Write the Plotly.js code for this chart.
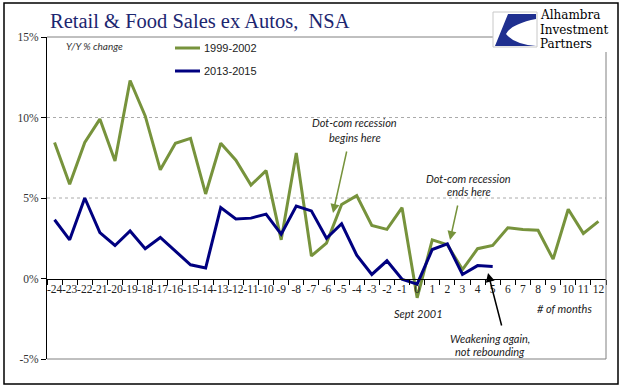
<!DOCTYPE html>
<html>
<head>
<meta charset="utf-8">
<script src="https://cdn.plot.ly/plotly-3.0.1.min.js"></script>
<style>html,body{margin:0;padding:0;background:#fff;}#chart{width:629px;height:392px;}</style>
</head>
<body>
<div id="chart"></div>
<script>
// ---- data ----
const months = [-24,-23,-22,-21,-20,-19,-18,-17,-16,-15,-14,-13,-12,-11,-10,-9,-8,-7,-6,-5,-4,-3,-2,-1,0,1,2,3,4,5,6,7,8,9,10,11,12];
const monthLabels = months.map(String);
const sales1999_2002 = [8.45,5.85,8.45,9.9,7.3,12.3,10.1,6.75,8.4,8.7,5.25,8.4,7.35,5.8,6.7,2.4,7.8,1.4,2.2,4.6,5.15,3.3,3.05,4.4,-1.2,2.4,2.1,0.55,1.85,2.05,3.15,3.05,3.0,1.2,4.3,2.8,3.55];
const sales2013_2015 = [3.65,2.4,5.0,2.85,2.05,2.95,1.85,2.55,1.7,0.85,0.65,4.4,3.7,3.75,4.0,2.75,4.5,4.2,2.5,3.4,1.45,0.25,1.1,-0.05,-0.35,1.8,2.15,0.25,0.8,0.75];
const seriesNames = ['1999-2002','2013-2015'];
const yTicks = [-5,0,5,10,15];

// ---- layout helpers (pixel -> paper) ----
const L = 47, R = 606, T = 37, B = 359;
const px = x => (x - L) / (R - L);
const py = y => (B - y) / (B - T);

const green = '#77933C', navy = '#000080';
const noteFont = {family: 'Lato, "Open Sans", sans-serif', size: 11, color: '#222'};

const traces = [
  {x: monthLabels, y: sales1999_2002, type: 'scatter', mode: 'lines', name: seriesNames[0],
   line: {color: green, width: 3}, showlegend: false, hoverinfo: 'skip'},
  {x: monthLabels.slice(0, sales2013_2015.length), y: sales2013_2015, type: 'scatter', mode: 'lines', name: seriesNames[1],
   line: {color: navy, width: 3}, showlegend: false, hoverinfo: 'skip'}
];

const shapes = [
  // outer frame
  {type: 'rect', xref: 'paper', yref: 'paper', x0: px(4), x1: px(618), y0: py(384), y1: py(3), line: {color: '#000', width: 1.5}},
  // plot area borders
  {type: 'line', xref: 'paper', yref: 'paper', x0: 0, x1: px(493), y0: 1, y1: 1, line: {color: '#808080', width: 1}},
  {type: 'line', xref: 'paper', yref: 'paper', x0: 1, x1: 1, y0: 0, y1: py(52), line: {color: '#808080', width: 1}},
  {type: 'line', xref: 'paper', yref: 'paper', x0: 0, x1: 1, y0: 0, y1: 0, line: {color: '#808080', width: 1}},
  // dashed gridlines
  {type: 'line', xref: 'paper', yref: 'y', x0: 0, x1: 1, y0: 5, y1: 5, line: {color: '#aaaaaa', width: 1, dash: 'dot'}, layer: 'below'},
  {type: 'line', xref: 'paper', yref: 'y', x0: 0, x1: 1, y0: 10, y1: 10, line: {color: '#aaaaaa', width: 1, dash: 'dot'}, layer: 'below'},
  // legend samples
  {type: 'line', xref: 'paper', yref: 'paper', x0: px(175), x1: px(200), y0: py(48), y1: py(48), line: {color: green, width: 3}},
  {type: 'line', xref: 'paper', yref: 'paper', x0: px(175), x1: px(200), y0: py(71), y1: py(71), line: {color: navy, width: 3}},
  // logo box
  {type: 'rect', xref: 'paper', yref: 'paper', x0: px(493), x1: px(537), y0: py(47), y1: py(12), fillcolor: '#fff', line: {color: '#c8c8c8', width: 1}},
];
// logo swoosh path (paper coords)
const P = (x, y) => px(x).toFixed(4) + ',' + py(y).toFixed(4);
shapes.push({type: 'path', xref: 'paper', yref: 'paper',
  path: 'M' + P(508,14) + ' L' + P(536,14) + ' L' + P(536,19) + ' Q' + P(511,24) + ' ' + P(506,34) +
        ' Q' + P(514,44) + ' ' + P(536,46) + ' L' + P(495,46) + ' Z',
  fillcolor: '#1f2f8f', line: {width: 0}});

const ann = [];
const txt = (x, y, text, opts = {}) => ann.push(Object.assign({xref: 'paper', yref: 'paper', x: px(x), y: py(y), text, showarrow: false,
  xanchor: 'center', yanchor: 'middle', font: noteFont}, opts));
const arrow = (x0, y0, x1, y1, color) => ann.push({xref: 'paper', yref: 'paper', x: px(x1), y: py(y1), ax: x0 - x1, ay: y0 - y1,
  text: '', showarrow: true, arrowhead: 2, arrowsize: 1.2, arrowwidth: 1.5, arrowcolor: color});

txt(94, 46, '<i>Y/Y % change</i>', {font: {family: 'Lato, sans-serif', size: 10, color: '#333'}});
txt(202, 48, seriesNames[0], {xanchor: 'left', font: {family: 'Liberation Sans, Arial, sans-serif', size: 11, color: '#222'}});
txt(202, 71, seriesNames[1], {xanchor: 'left', font: {family: 'Liberation Sans, Arial, sans-serif', size: 11, color: '#222'}});
txt(355, 123, '<i>Dot-com recession</i>');
txt(355, 137, '<i>begins here</i>');
arrow(347, 150, 333, 213, green);
txt(469, 178, '<i>Dot-com recession</i>');
txt(469, 191, '<i>ends here</i>');
arrow(458, 204, 450, 240, green);
txt(418, 313, '<i>Sept 2001</i>');
txt(564, 308, '<i># of months</i>');
txt(490, 338, '<i>Weakening again,</i>');
txt(490, 351, '<i>not rebounding</i>');
arrow(502, 327, 488, 273, '#000');
// logo text
const logoFont = {family: '"DejaVu Serif", "Liberation Serif", serif', size: 12, color: '#000'};
txt(538, 15.5, 'Alhambra', {xanchor: 'left', font: logoFont});
txt(538, 30, 'Investment', {xanchor: 'left', font: logoFont});
txt(538, 44.5, 'Partners', {xanchor: 'left', font: logoFont});

const layout = {
  width: 629, height: 392,
  margin: {l: L, r: 629 - R, t: T, b: 392 - B, pad: 0},
  paper_bgcolor: '#fff', plot_bgcolor: '#fff',
  title: {text: 'Retail &amp; Food Sales ex Autos,  NSA', xref: 'container', yref: 'container',
          x: 50 / 629, xanchor: 'left', y: 1 - 21 / 392, yanchor: 'middle',
          font: {family: '"Liberation Serif", "DejaVu Serif", serif', size: 20.5, color: '#1c2670'}},
  xaxis: {type: 'category', categoryorder: 'array', categoryarray: monthLabels,
          range: [-0.5, monthLabels.length - 0.5], anchor: 'free', position: 0.25,
          showline: true, linecolor: '#000', linewidth: 1, showgrid: false, zeroline: false,
          ticks: 'outside', tickson: 'boundaries', ticklen: 5, tickcolor: '#000', tickwidth: 1,
          tickmode: 'linear', tick0: 0, dtick: 1, tickangle: 0,
          tickfont: {family: '"Liberation Serif", serif', size: 11.5, color: '#222'}, fixedrange: true},
  yaxis: {range: [-5, 15], tickvals: yTicks, ticktext: yTicks.map(v => v + '%'),
          showline: true, linecolor: '#000', linewidth: 1, showgrid: false, zeroline: false,
          ticks: 'outside', ticklen: 5, tickcolor: '#000',
          tickfont: {family: '"Liberation Serif", serif', size: 11.5, color: '#333'}, fixedrange: true},
  shapes, annotations: ann, showlegend: false
};
Plotly.newPlot('chart', traces, layout, {staticPlot: true, displayModeBar: false});
</script>
</body>
</html>
